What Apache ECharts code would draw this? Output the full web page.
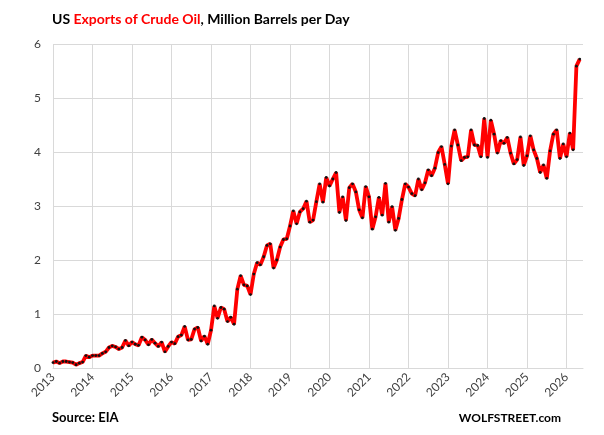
<!DOCTYPE html>
<html lang="en">
<head>
    <meta charset="UTF-8">
    <title>US Exports of Crude Oil</title>
    <script src="https://cdn.jsdelivr.net/npm/echarts@6/dist/echarts.min.js"></script>
    <style>
        html, body { margin: 0; padding: 0; background: #fff; }
    </style>
</head>
<body>

<div id="main" style="width: 604px; height: 435px;"></div>
<script>
    // years on the x axis, one label per January
    var years = [2013, 2014, 2015, 2016, 2017, 2018, 2019, 2020, 2021, 2022, 2023, 2024, 2025, 2026];
    // the axis runs to June 2026, last data point is May 2026
    var monthsOnAxis = 162;

    // monthly exports, million b/d, Jan 2013 .. May 2026
    var exports2013_2016 = [
        0.10, 0.12, 0.09, 0.12, 0.12, 0.11, 0.10, 0.06, 0.09, 0.11, 0.23, 0.20,
        0.23, 0.23, 0.23, 0.27, 0.30, 0.38, 0.41, 0.39, 0.35, 0.38, 0.51, 0.41,
        0.48, 0.44, 0.42, 0.57, 0.52, 0.43, 0.53, 0.46, 0.40, 0.48, 0.30, 0.40,
        0.48, 0.45, 0.58, 0.61, 0.77, 0.52, 0.53, 0.72, 0.75, 0.50, 0.59, 0.44
    ];
    var exports2017_2020 = [
        0.70, 1.15, 0.92, 1.12, 1.09, 0.86, 0.94, 0.81, 1.46, 1.71, 1.54, 1.52,
        1.36, 1.74, 1.95, 1.91, 2.06, 2.27, 2.30, 1.85, 2.00, 2.24, 2.38, 2.39,
        2.63, 2.91, 2.67, 2.89, 2.95, 3.09, 2.70, 2.74, 3.08, 3.41, 3.07, 3.53,
        3.37, 3.50, 3.62, 2.88, 3.17, 2.73, 3.34, 3.41, 3.26, 2.93, 2.78, 3.36
    ];
    var exports2021_2024 = [
        3.17, 2.57, 2.80, 3.16, 2.83, 3.42, 2.70, 2.99, 2.55, 2.77, 3.12, 3.41,
        3.35, 3.23, 3.19, 3.50, 3.30, 3.43, 3.67, 3.56, 3.70, 3.99, 4.10, 3.77,
        3.41, 4.11, 4.41, 4.13, 3.84, 3.90, 3.91, 4.41, 4.13, 4.12, 3.91, 4.62,
        3.90, 4.59, 4.33, 3.98, 4.21, 4.16, 4.27, 3.98, 3.78, 3.86, 4.28, 3.75
    ];
    var exports2025_2026 = [
        3.93, 4.30, 4.04, 3.88, 3.62, 3.76, 3.51, 4.02, 4.33, 4.41, 3.88, 4.15,
        3.91, 4.35, 4.04, 5.59, 5.72
    ];
    var yTicks = [0, 1, 2, 3, 4, 5, 6];

    var values = exports2013_2016.concat(exports2017_2020, exports2021_2024, exports2025_2026);

    var months = [];
    for (var i = 0; i < monthsOnAxis; i++) {
        months.push(String(years[0] + Math.floor(i / 12)) + '-' + String(i % 12 + 1));
    }

    var isJanuary = function (index) { return index % 12 === 0; };

    var mychart = echarts.init(document.getElementById('main'));

    mychart.setOption({
        animation: false,
        title: [{
            text: '{k|US }{r|Exports of Crude Oil}{k|, Million Barrels per Day}',
            left: 47,
            top: 7,
            textStyle: {
                rich: {
                    k: { fontFamily: 'Lato', fontWeight: 'bold', fontSize: 14, color: '#000' },
                    r: { fontFamily: 'Lato', fontWeight: 'bold', fontSize: 14, color: '#ff0000' }
                }
            }
        }, {
            text: 'Source: EIA',
            left: 47,
            top: 406,
            textStyle: { fontFamily: 'Lato', fontWeight: 'bold', fontSize: 13, color: '#000' }
        }, {
            text: 'WOLFSTREET.com',
            right: 38,
            top: 407,
            textStyle: { fontFamily: 'Lato', fontWeight: 'bold', fontSize: 12, color: '#000' }
        }],
        grid: {
            left: 53,
            right: 21,
            top: 44,
            bottom: 67,
            containLabel: false
        },
        xAxis: {
            type: 'category',
            data: months,
            boundaryGap: false,
            axisLine: { lineStyle: { color: '#d9d9d9', width: 1 } },
            axisTick: { show: false },
            axisLabel: {
                interval: isJanuary,
                rotate: 45,
                margin: 7,
                fontFamily: 'Lato',
                fontSize: 12,
                color: '#404040',
                formatter: function (v) { return v.split('-')[0]; }
            },
            splitLine: {
                show: true,
                interval: isJanuary,
                lineStyle: { color: '#d9d9d9', width: 1 }
            }
        },
        yAxis: {
            type: 'value',
            min: yTicks[0],
            max: yTicks[yTicks.length - 1],
            interval: 1,
            axisLine: { show: false },
            axisTick: { show: false },
            axisLabel: {
                margin: 12,
                fontFamily: 'Lato',
                fontSize: 12,
                color: '#404040'
            },
            splitLine: { lineStyle: { color: '#d9d9d9', width: 1 } }
        },
        series: [{
            name: 'Exports',
            type: 'line',
            data: values,
            symbol: 'circle',
            symbolSize: 2.8,
            showSymbol: true,
            showAllSymbol: true,
            itemStyle: { color: '#111' },
            lineStyle: { color: '#ff0000', width: 3.8 },
            z: 3
        }]
    });
</script>

</body>
</html>
